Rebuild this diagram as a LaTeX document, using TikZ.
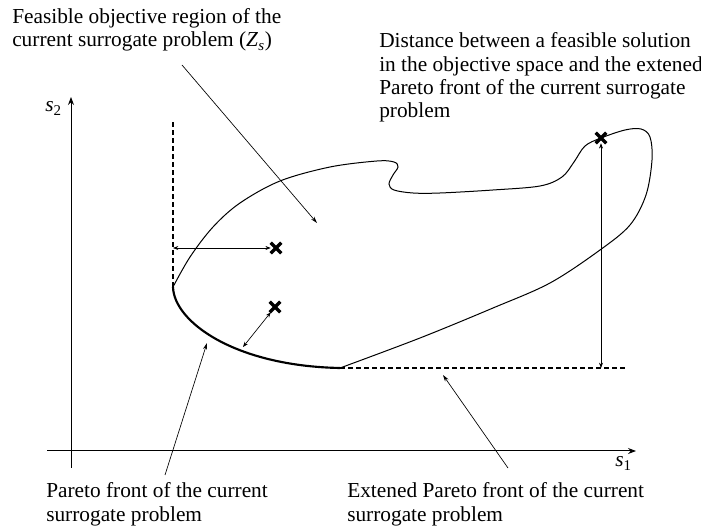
\documentclass[tikz,border=0pt]{standalone}
\usepackage{fontspec}
\setmainfont{Liberation Serif}
\usetikzlibrary{arrows.meta,shapes.misc}
\begin{document}
\begin{tikzpicture}[x=0.75pt,y=-0.75pt,
  lbl/.style={font=\fontsize{16}{17.5}\selectfont, align=left, anchor=north west, inner sep=0pt},
  axlbl/.style={font=\fontsize{16}{17.5}\selectfont, inner sep=0pt, anchor=base west},
  ax/.style={line width=0.75pt, -{Stealth[length=6pt,width=4.5pt]}},
  ptr/.style={line width=0.5pt, -{Stealth[length=5pt,width=3pt]}},
  dist/.style={line width=0.5pt, {Stealth[length=4pt,width=3pt]}-{Stealth[length=4pt,width=3pt]}},
  ext/.style={line width=1.3pt, dash pattern=on 4pt off 2pt},
  bound/.style={line width=0.75pt},
  front/.style={line width=1.6pt},
  xmark/.style={cross out, draw, line width=2.4pt, minimum size=5.5pt, inner sep=0pt},
]
\useasboundingbox (0,0) rectangle (701,527);

% texts
\node[lbl] (tFeas) at (12,8.2) {Feasible objective region of the\\current surrogate problem (\textit{Z}\textsubscript{\textit{s}})};
\node[lbl] (tDist) at (379,32.7) {Distance between a feasible solution\\in the objective space and the extened\\Pareto front of the current surrogate\\problem};
\node[lbl] (tPar) at (46,482.4) {Pareto front of the current\\surrogate problem};
\node[lbl] (tExt) at (347,482.4) {Extened Pareto front of the current\\surrogate problem};

% axes
\coordinate (O) at (71,468);
\coordinate (ytip) at (71,97);
\coordinate (xs) at (47,451);
\coordinate (xtip) at (636,451);
\draw[ax] (O) -- (ytip);
\draw[ax] (xs) -- (xtip);
\node[axlbl] (s2) at (45,112) {\textit{s}\textsubscript{2}};
\node[axlbl] (s1) at (615,467) {\textit{s}\textsubscript{1}};

% region boundary
\coordinate (L) at (173,287);
\coordinate (R) at (340,368);
\draw[bound] plot[smooth, tension=0.55] coordinates {
  (340,368) (420,338) (493,308) (550,283) (600,250) (630,225) (646,195)
  (652,160) (650,137) (641,129) (625,130) (601,138) (585,146) (574,162)
  (562,177) (540,186) (493,190) (440,193) (413,193) (394,190) (389,184)
  (393,175) (398,167) (394,162) (377,161) (330,167) (280,181) (240,203)
  (213,227) (190,257) (173,287)};
\draw[front] (L) .. controls (174,322) and (235,366) .. (R);

% dashed extension
\coordinate (Vtop) at (173,120);
\coordinate (Hend) at (625,368);
\draw[ext] (L) -- (Vtop);
\draw[ext] (R) -- (Hend);

% solutions
\node[xmark] (pA) at (276,248) {};
\node[xmark] (pB) at (275,307) {};
\node[xmark] (pC) at (601,138) {};

% distances
\coordinate (dA) at (173,248);
\coordinate (dB) at (243,347);
\coordinate (dC) at (601,368);
\draw[dist] (dA) -- (pA);
\draw[dist] (dB) -- (pB);
\draw[dist] (dC) -- (pC);

% pointers
\coordinate (fs) at (182,65);
\coordinate (fe) at (317,223);
\coordinate (ps) at (165,475);
\coordinate (pe) at (207,343);
\coordinate (es) at (508,468);
\coordinate (ee) at (443,375);
\draw[ptr] (fs) -- (fe);
\draw[ptr] (ps) -- (pe);
\draw[ptr] (es) -- (ee);
\end{tikzpicture}
\end{document}
